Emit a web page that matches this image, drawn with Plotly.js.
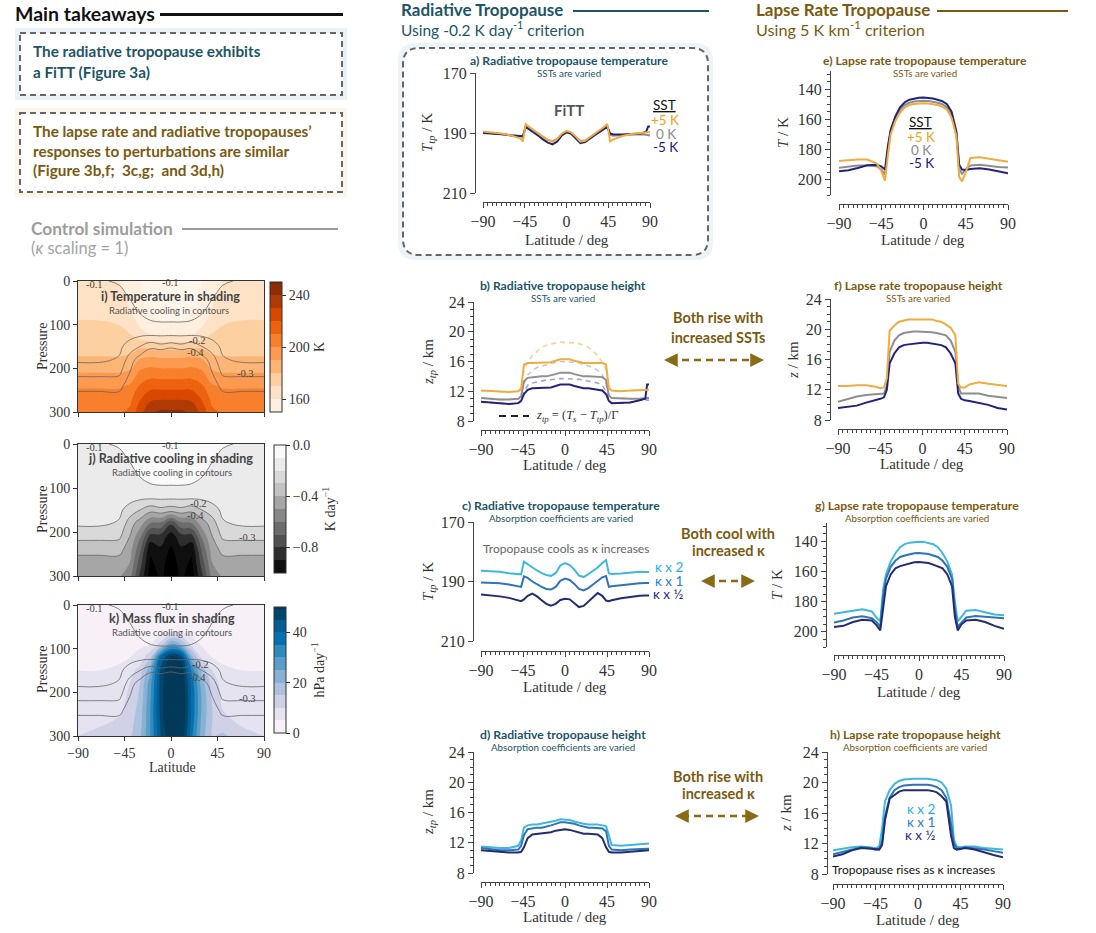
<!DOCTYPE html>
<html><head><meta charset="utf-8">
<script src="https://cdn.plot.ly/plotly-3.0.1.min.js"></script>
<style>html,body{margin:0;padding:0;background:#fff;}#chart{width:1096px;height:933px;}</style>
</head><body><div id="chart"></div>
<script>
// ---------------- DATA ----------------
const latR = [-90,-80,-70,-60,-50,-47,-44,-40,-35,-30,-25,-20,-15,-10,-5,0,5,10,15,20,25,30,35,40,44,47,50,60,70,80,86,88,90];
const latL = [-90,-80,-70,-60,-50,-45,-41,-38,-35,-30,-25,-20,-15,-10,-5,0,5,10,15,20,25,30,35,38,41,45,50,60,70,80,90];

// a) radiative tropopause temperature, SSTs varied (K)
const aGray   = [189.8,190.0,190.3,190.7,191.0,191.4,187.6,188.3,189.4,190.4,191.4,192.3,192.7,192.0,190.4,189.5,190.0,191.4,192.6,192.5,191.5,190.5,189.5,188.3,187.7,190.6,190.9,190.7,190.5,190.4,190.6,190.7,190.8];
const aOrange = [189.5,189.8,190.2,190.8,191.8,192.8,187.0,188.0,189.2,190.3,191.3,192.3,193.0,192.0,190.2,189.3,189.8,191.2,192.9,192.6,191.5,190.3,189.3,188.1,187.0,192.8,192.2,191.0,190.3,189.9,189.8,189.7,189.7];
const aNavy   = [190.0,190.1,190.4,190.8,191.0,191.1,188.0,188.8,190.0,191.0,192.2,193.2,193.8,192.8,190.8,189.8,190.3,191.8,193.4,193.0,191.8,190.8,189.8,188.8,188.0,190.2,190.4,190.5,190.3,190.2,189.5,187.8,187.8];

// b) radiative tropopause height, SSTs varied (km)
const bOrange = [12.1,12.0,11.9,11.9,12.0,12.3,15.6,15.8,15.8,15.8,15.8,15.9,15.9,16.1,16.3,16.3,16.3,16.1,15.9,15.8,15.8,15.8,15.8,15.8,15.6,12.4,12.1,12.0,12.1,12.2,12.2,12.2,12.2];
const bGray   = [11.1,11.0,10.9,10.9,11.0,11.3,13.3,13.8,13.9,13.9,14.0,14.0,14.1,14.3,14.5,14.5,14.5,14.3,14.1,14.0,14.0,14.0,14.0,13.9,13.5,11.4,11.1,11.0,11.0,11.0,11.1,11.1,11.1];
const bNavy   = [10.6,10.5,10.3,10.3,10.4,10.7,11.6,12.2,12.4,12.4,12.4,12.4,12.5,12.7,12.9,12.9,12.9,12.7,12.5,12.4,12.4,12.3,12.3,12.1,11.6,10.7,10.4,10.4,10.5,10.8,11.0,12.9,12.9];
const bOrangeEst = [12.1,12.0,11.9,11.9,12.0,12.6,14.8,15.9,16.8,17.4,17.9,18.2,18.4,18.5,18.6,18.6,18.6,18.5,18.4,18.2,17.9,17.4,16.8,15.9,14.8,12.6,12.1,12.0,12.1,12.2,12.2,12.2,12.2];
const bGrayEst   = [11.1,11.0,10.9,10.9,11.0,11.4,13.0,14.2,14.8,15.2,15.4,15.6,15.8,15.9,16.0,16.0,16.0,15.9,15.8,15.6,15.4,15.2,14.8,14.2,13.0,11.4,11.1,11.0,11.0,11.0,11.1,11.1,11.1];
const bNavyEst   = [10.6,10.5,10.3,10.3,10.4,10.8,12.0,12.8,13.1,13.3,13.4,13.5,13.6,13.7,13.7,13.7,13.7,13.7,13.6,13.5,13.4,13.3,13.1,12.8,12.0,10.8,10.4,10.4,10.5,10.8,10.8,10.8,10.8];

// c) radiative tropopause temperature, kappa varied (K)
const cK2   = [186.4,186.5,186.7,187.2,187.6,187.6,183.3,184.2,185.3,186.3,187.2,187.8,188.1,187.2,184.6,183.8,184.5,186.0,188.0,188.5,187.5,186.5,185.3,183.8,182.8,187.3,187.5,187.3,187.0,186.7,186.8,186.8,186.8];
const cK1   = [190.3,190.4,190.6,191.0,191.6,191.8,188.3,188.8,190.0,191.0,191.8,192.5,192.7,191.8,189.8,189.0,189.5,190.8,192.5,193.0,192.2,191.0,189.8,188.6,188.2,191.8,191.6,191.2,190.8,190.6,190.5,190.5,190.5];
const cKh   = [194.4,194.6,195.0,195.5,196.3,196.6,196.0,194.8,194.1,195.0,196.3,197.5,198.1,197.5,196.2,195.8,196.0,197.3,198.6,198.2,196.8,195.2,193.9,194.8,196.4,196.6,196.3,195.6,195.1,194.8,194.7,194.7,194.7];

// d) radiative tropopause height, kappa varied (km)
const dK2   = [11.5,11.4,11.3,11.3,11.6,12.3,14.0,14.3,14.4,14.4,14.5,14.6,14.7,14.9,15.1,15.1,15.0,14.8,14.6,14.5,14.4,14.4,14.4,14.3,14.2,13.0,11.7,11.6,11.7,11.8,11.9,11.9,11.9];
const dK1   = [11.3,11.2,11.0,11.0,11.1,11.6,13.0,13.8,13.9,14.0,14.0,14.1,14.3,14.5,14.7,14.7,14.6,14.5,14.3,14.1,14.0,14.0,14.0,13.9,13.5,11.6,11.1,11.0,11.1,11.2,11.2,11.2,11.2];
const dKh   = [11.0,10.9,10.8,10.7,10.7,10.8,11.4,12.6,13.1,13.2,13.3,13.3,13.4,13.6,13.7,13.8,13.7,13.5,13.3,13.2,13.2,13.2,13.1,12.6,11.4,10.8,10.7,10.7,10.8,10.9,11.0,11.0,11.0];

// e) lapse rate tropopause temperature, SSTs varied (K)
const eNavy   = [194.3,193.6,192.2,190.3,190.0,191.0,193.2,178.0,167.0,158.0,152.0,148.7,147.0,146.2,145.7,145.5,145.7,146.2,147.0,148.0,150.0,155.0,168.0,190.0,193.2,193.4,192.8,192.3,193.2,194.5,195.6];
const eGray   = [192.0,191.5,190.5,190.5,191.0,193.0,196.5,180.0,168.0,159.0,153.5,150.5,149.0,148.2,147.8,147.7,147.8,148.2,149.0,150.0,152.0,157.0,169.0,193.0,196.0,193.0,190.5,190.0,190.8,191.5,191.8];
const eOrange = [187.5,187.0,186.5,186.5,189.0,194.0,200.5,184.0,170.0,161.0,155.5,152.0,150.5,149.8,149.5,149.4,149.5,149.8,150.5,151.5,153.5,159.0,171.0,198.0,201.0,195.0,185.5,185.0,186.0,187.2,188.0];

// f) lapse rate tropopause height, SSTs varied (km)
const fOrange = [12.5,12.5,12.6,12.6,12.4,12.2,12.3,13.5,19.8,20.5,21.0,21.2,21.3,21.3,21.3,21.3,21.3,21.3,21.1,21.0,20.6,20.2,19.2,12.8,12.3,12.3,12.7,13.0,12.8,12.7,12.5];
const fGray   = [10.4,10.8,11.1,11.3,11.4,11.4,11.5,12.5,17.0,18.5,19.2,19.5,19.6,19.7,19.7,19.7,19.7,19.6,19.5,19.4,19.2,18.5,17.0,12.5,11.5,11.5,11.5,11.5,11.2,11.0,10.9];
const fNavy   = [9.6,9.7,9.9,10.3,10.6,10.8,11.0,12.0,15.5,16.8,17.6,17.9,18.0,18.1,18.2,18.2,18.2,18.1,18.0,17.9,17.6,16.8,15.5,11.5,10.8,10.6,10.5,10.3,10.0,9.6,9.4];

// g) lapse rate tropopause temperature, kappa varied (K)
const gK2   = [188.0,187.2,186.0,185.0,186.5,190.5,193.0,172.0,162.0,153.5,148.0,144.0,142.0,141.0,140.5,140.4,140.5,141.0,142.0,144.0,148.0,153.5,162.0,180.0,193.0,190.0,186.0,185.5,187.0,188.5,189.0];
const gK1   = [193.8,192.5,190.5,189.7,191.0,193.5,196.5,176.0,165.0,157.0,153.0,150.5,149.5,148.5,148.0,147.9,148.0,148.5,149.5,150.5,153.0,157.0,165.0,185.0,196.5,193.5,190.5,189.5,190.0,190.8,191.0];
const gKh   = [196.8,196.0,193.5,192.0,192.5,195.5,199.0,185.0,170.0,162.0,158.0,156.5,155.5,154.5,154.0,153.8,154.0,154.5,155.5,156.5,158.0,162.0,170.0,190.0,199.0,195.0,192.5,192.0,193.5,196.0,198.0];

// h) lapse rate tropopause height, kappa varied (km)
const hK2   = [11.1,11.3,11.5,11.6,11.5,11.4,11.6,14.0,17.5,19.0,19.8,20.2,20.4,20.5,20.5,20.5,20.5,20.5,20.4,20.3,20.0,19.2,17.0,12.5,11.6,11.5,11.6,11.6,11.4,11.3,11.2];
const hK1   = [10.6,10.9,11.3,11.5,11.4,11.2,11.3,12.2,15.5,18.0,19.0,19.4,19.6,19.7,19.7,19.7,19.7,19.7,19.6,19.4,19.0,18.0,14.5,12.0,11.4,11.3,11.5,11.4,11.2,11.0,10.8];
const hKh   = [10.3,10.6,11.1,11.4,11.3,11.2,11.2,11.8,15.0,17.9,18.3,18.8,19.0,19.0,19.0,19.0,19.0,19.0,18.9,18.7,18.2,17.5,13.0,11.4,11.2,11.3,11.4,11.2,10.8,10.5,10.2];

// Control simulation fields (rows = pressure, cols = latitude)
const latC  = [-90,-70,-50,-40,-30,-20,-10,0,10,20,30,40,50,70,90];
const presC = [0,30,60,90,120,150,180,210,240,270,300];
const tempField = [
 [163,163,160,157,150,146,145,145,145,146,150,157,160,163,163],
 [165,165,162,158,151,146,145,145,145,146,151,158,162,165,165],
 [167,167,165,160,153,148,146,146,146,148,153,160,165,167,167],
 [170,170,168,164,157,152,150,150,150,152,157,164,168,170,170],
 [174,174,173,170,163,159,158,158,158,159,163,170,173,174,174],
 [177,177,177,177,178,177,176,176,176,177,178,177,177,177,177],
 [181,181,181,182,191,193,192,192,192,193,191,182,181,181,181],
 [190,190,190,192,202,205,204,204,204,205,202,192,190,190,190],
 [199,199,199,201,211,216,216,216,216,216,211,201,199,199,199],
 [204,204,204,207,219,228,229,229,229,228,219,207,204,204,204],
 [208,208,209,212,226,238,242,242,242,238,226,212,209,208,208]
];
const coolField = [
 [-0.12,-0.11,-0.09,-0.06,-0.04,-0.03,-0.03,-0.03,-0.03,-0.03,-0.04,-0.06,-0.09,-0.11,-0.12],
 [-0.13,-0.13,-0.12,-0.09,-0.05,-0.04,-0.04,-0.04,-0.04,-0.04,-0.05,-0.09,-0.12,-0.13,-0.13],
 [-0.14,-0.14,-0.14,-0.12,-0.08,-0.06,-0.05,-0.05,-0.05,-0.06,-0.08,-0.12,-0.14,-0.14,-0.14],
 [-0.15,-0.15,-0.15,-0.15,-0.12,-0.10,-0.09,-0.09,-0.09,-0.10,-0.12,-0.15,-0.15,-0.15,-0.15],
 [-0.16,-0.16,-0.16,-0.16,-0.17,-0.17,-0.17,-0.17,-0.17,-0.17,-0.17,-0.16,-0.16,-0.16,-0.16],
 [-0.17,-0.17,-0.18,-0.24,-0.30,-0.36,-0.33,-0.35,-0.33,-0.36,-0.30,-0.24,-0.18,-0.17,-0.17],
 [-0.18,-0.18,-0.21,-0.35,-0.45,-0.60,-0.62,-0.78,-0.62,-0.60,-0.45,-0.35,-0.21,-0.18,-0.18],
 [-0.27,-0.27,-0.28,-0.40,-0.58,-0.84,-0.84,-0.95,-0.84,-0.84,-0.58,-0.40,-0.28,-0.27,-0.27],
 [-0.37,-0.37,-0.37,-0.45,-0.68,-0.98,-0.92,-1.02,-0.92,-0.98,-0.68,-0.45,-0.37,-0.37,-0.37],
 [-0.44,-0.44,-0.44,-0.50,-0.75,-1.02,-0.96,-1.05,-0.96,-1.02,-0.75,-0.50,-0.44,-0.44,-0.44],
 [-0.49,-0.49,-0.49,-0.55,-0.82,-1.05,-0.98,-1.05,-0.98,-1.05,-0.82,-0.55,-0.49,-0.49,-0.49]
];
const massField = [
 [1,1,1,1,1,1,1,1,1,1,1,1,1,1,1],
 [1,1,1,1,1,1,1,2,2,1,1,1,1,1,1],
 [2,2,2,2,2,2,3,4,4,3,2,2,2,2,2],
 [3,3,3,3,4,5,12,25,20,8,4,3,3,3,3],
 [4,4,4,5,7,14,40,52,48,22,9,5,4,4,4],
 [5,5,6,8,12,24,46,56,54,34,18,10,6,5,5],
 [6,6,7,10,15,28,47,58,56,38,22,13,8,6,6],
 [7,7,8,11,16,29,47,60,57,39,24,14,9,7,7],
 [8,8,9,12,17,30,47,60,57,39,24,15,10,8,8],
 [9,9,11,13,18,30,46,58,56,38,23,15,12,9,9],
 [10,12,15,14,19,30,45,55,54,36,22,15,16,12,10]
];

// ---------------- STYLE ----------------
const W = 1096, H = 933;
const X = p => p / W, Y = p => 1 - p / H;
const TEAL = '#1d5565', GOLD = '#7a5a10', GOLDARROW = '#8a6a14';
const cOr = '#efad40', cGr = '#8e8e8e', cNv = '#23237c';
const cK2c = '#3fb8dc', cK1c = '#2f74b8', cKhc = '#232c6e';
const SERIF = 'Liberation Serif', SANS = 'Lato';
const AXC = '#444';

const traces = [];
function line(x, y, n, color, width, dash) {
  traces.push({type:'scatter', mode:'lines', x:x, y:y, xaxis: n===1?'x':'x'+n, yaxis: n===1?'y':'y'+n,
    line:{color:color, width:width||2, dash:dash||'solid'}, hoverinfo:'skip'});
}
// a
line(latR, aGray, 1, cGr); line(latR, aNavy, 1, cNv); line(latR, aOrange, 1, cOr);
// b
line(latR, bOrangeEst, 2, 'rgba(240,175,70,0.55)', 1.6, '5px,4px');
line(latR, bGrayEst, 2, 'rgba(150,150,150,0.55)', 1.6, '5px,4px');
line(latR, bNavyEst, 2, 'rgba(70,70,180,0.5)', 1.6, '5px,4px');
line(latR, bGray, 2, cGr); line(latR, bNavy, 2, cNv); line(latR, bOrange, 2, cOr);
// c
line(latR, cK2, 3, cK2c); line(latR, cK1, 3, cK1c); line(latR, cKh, 3, cKhc);
// d
line(latR, dK2, 4, cK2c); line(latR, dK1, 4, cK1c); line(latR, dKh, 4, cKhc);
// e
line(latL, eGray, 5, cGr); line(latL, eNavy, 5, cNv); line(latL, eOrange, 5, cOr);
// f
line(latL, fGray, 6, cGr); line(latL, fNavy, 6, cNv); line(latL, fOrange, 6, cOr);
// g
line(latL, gK2, 7, cK2c); line(latL, gK1, 7, cK1c); line(latL, gKh, 7, cKhc);
// h
line(latL, hK2, 8, cK2c); line(latL, hK1, 8, cK1c); line(latL, hKh, 8, cKhc);

// contour panels
const oranges = [[0,'#fff5eb'],[0.125,'#fee6ce'],[0.25,'#fdd0a2'],[0.375,'#fdae6b'],[0.5,'#fd8d3c'],[0.625,'#f16913'],[0.75,'#d94801'],[0.875,'#a63603'],[1,'#7f2704']];
const greys = [[0,'#000000'],[0.125,'#252525'],[0.25,'#525252'],[0.375,'#737373'],[0.5,'#969696'],[0.625,'#bdbdbd'],[0.75,'#d9d9d9'],[0.875,'#f0f0f0'],[1,'#ffffff']];
const pubu = [[0,'#fff7fb'],[0.125,'#ece7f2'],[0.25,'#d0d1e6'],[0.375,'#a6bddb'],[0.5,'#74a9cf'],[0.625,'#3690c0'],[0.75,'#0570b0'],[0.875,'#045a8d'],[1,'#023858']];
function cbar(x0, yc, len, tv, tt, title) {
  return {x:X(x0), xanchor:'left', y:Y(yc), yanchor:'middle', len:len/H, lenmode:'fraction', thickness:12,
    xpad:0, ypad:0, outlinewidth:1, outlinecolor:'#333', tickvals:tv, ticktext:tt, ticks:'outside', ticklen:4,
    tickcolor:'#333', tickfont:{family:SERIF, size:14, color:'#333'},
    title:{text:title, side:'right', font:{family:SERIF, size:14, color:'#333'}}};
}
traces.push({type:'contour', x:latC, y:presC, z:tempField, xaxis:'x9', yaxis:'y9', colorscale:oranges,
  zmin:150, zmax:250, autocontour:false, contours:{coloring:'fill', start:150, end:250, size:10, showlines:false},
  line:{width:0, smoothing:1.2}, hoverinfo:'skip',
  colorbar:cbar(270, 347, 130, [160,200,240], ['160','200','240'], 'K')});
traces.push({type:'contour', x:latC, y:presC, z:coolField, xaxis:'x10', yaxis:'y10', colorscale:greys,
  zmin:-1.0, zmax:0.0, autocontour:false, contours:{coloring:'fill', start:-1.0, end:0.0, size:0.1, showlines:false},
  line:{width:0, smoothing:1.2}, hoverinfo:'skip',
  colorbar:cbar(274, 509, 128, [0,-0.4,-0.8], ['0.0','\u22120.4','\u22120.8'], 'K day<sup>\u22121</sup>')});
traces.push({type:'contour', x:latC, y:presC, z:massField, xaxis:'x11', yaxis:'y11', colorscale:pubu,
  zmin:0, zmax:50, autocontour:false, contours:{coloring:'fill', start:0, end:50, size:5, showlines:false},
  line:{width:0, smoothing:1.2}, hoverinfo:'skip',
  colorbar:cbar(274, 670, 126, [0,20,40], ['0','20','40'], 'hPa day<sup>\u22121</sup>')});
[9,10,11].forEach(n => {
  traces.push({type:'contour', x:latC, y:presC, z:coolField, xaxis:'x'+n, yaxis:'y'+n, showscale:false,
    autocontour:false, contours:{coloring:'none', start:-0.4, end:-0.1, size:0.1},
    line:{color:'#666', width:0.8, smoothing:1.2}, hoverinfo:'skip'});
});

// ---------------- AXES ----------------
const layout = {width:W, height:H, margin:{l:0,r:0,t:0,b:0}, showlegend:false,
  paper_bgcolor:'#ffffff', plot_bgcolor:'rgba(0,0,0,0)', shapes:[], annotations:[]};

function lineAxes(n, xl, xr, yt, yb, xline, yline, yrange, ydtick, ytick0, yminor) {
  const k = n===1 ? '' : n;
  layout['xaxis'+k] = {domain:[X(xl), X(xr)], range:[-90,90], anchor:'free', position:Y(xline),
    tickmode:'linear', tick0:-90, dtick:45, ticks:'outside', ticklen:5, tickwidth:1, tickcolor:AXC,
    showline:true, linecolor:AXC, linewidth:1, showgrid:false, zeroline:false,
    tickfont:{family:SERIF, size:16, color:'#333'},
    minor:{tickmode:'linear', tick0:0, dtick:5, ticks:'outside', ticklen:3, tickcolor:AXC, showgrid:false}};
  const ya = {domain:[Y(yb), Y(yt)], range:yrange, anchor:'free', position:X(yline),
    tickmode:'linear', tick0:ytick0, dtick:ydtick, ticks:'outside', ticklen:5, tickwidth:1, tickcolor:AXC,
    showline:true, linecolor:AXC, linewidth:1, showgrid:false, zeroline:false,
    tickfont:{family:SERIF, size:16, color:'#333'}};
  if (yminor) ya.minor = {tickmode:'linear', tick0:0, dtick:yminor, ticks:'outside', ticklen:3, tickcolor:AXC, showgrid:false};
  layout['yaxis'+k] = ya;
}
lineAxes(1, 483, 650, 73, 193, 202, 475, [210,170], 20, 170, 0);
lineAxes(2, 481, 649, 302, 421, 430, 473, [8,24], 4, 8, 1);
lineAxes(3, 481, 649, 522, 641, 651, 473, [210,170], 20, 170, 0);
lineAxes(4, 481, 649, 752, 873, 882, 473, [8,24], 4, 8, 1);
lineAxes(5, 839, 1008, 71, 195, 204, 830, [210,128], 20, 140, 5);
lineAxes(6, 838, 1007, 299, 420, 429, 830, [8,24], 4, 8, 1);
lineAxes(7, 834, 1004, 523, 647, 655, 826, [210,128], 20, 140, 5);
lineAxes(8, 833, 1003, 752, 874, 884, 827, [8,24], 4, 8, 1);

function boxAxes(n, yt, yb, showX) {
  layout['xaxis'+n] = {domain:[X(78), X(264)], range:[-90,90], anchor:'y'+n, tickmode:'linear', tick0:-90, dtick:45,
    ticks:'outside', ticklen:4, tickcolor:'#333', showline:true, mirror:true, linecolor:'#333', linewidth:1,
    showgrid:false, zeroline:false, showticklabels:showX, tickfont:{family:SERIF, size:14, color:'#333'}};
  layout['yaxis'+n] = {domain:[Y(yb), Y(yt)], range:[300,0], anchor:'x'+n, tickmode:'linear', tick0:0, dtick:100,
    ticks:'outside', ticklen:4, tickcolor:'#333', showline:true, mirror:true, linecolor:'#333', linewidth:1,
    showgrid:false, zeroline:false, tickfont:{family:SERIF, size:14, color:'#333'}};
}
boxAxes(9, 281, 412, false);
boxAxes(10, 444, 576, false);
boxAxes(11, 605, 736, true);

// ---------------- SHAPES ----------------
const S = layout.shapes;
function pline(x0, y0, x1, y1, color, width, dash) {
  S.push({type:'line', xref:'paper', yref:'paper', x0:X(x0), y0:Y(y0), x1:X(x1), y1:Y(y1),
    line:{color:color, width:width, dash:dash||'solid'}});
}
function prect(x0, y0, x1, y1, fill, lc, lw, dash, layer) {
  S.push({type:'rect', xref:'paper', yref:'paper', x0:X(x0), y0:Y(y0), x1:X(x1), y1:Y(y1),
    fillcolor:fill, line:{color:lc, width:lw, dash:dash||'solid'}, layer:layer||'above'});
}
function rpath(x0, y0, x1, y1, r) {
  const f = (a,b) => X(a)+','+Y(b);
  return 'M'+f(x0+r,y0)+' L'+f(x1-r,y0)+' Q'+f(x1,y0)+' '+f(x1,y0+r)+' L'+f(x1,y1-r)+' Q'+f(x1,y1)+' '+f(x1-r,y1)+
    ' L'+f(x0+r,y1)+' Q'+f(x0,y1)+' '+f(x0,y1-r)+' L'+f(x0,y0+r)+' Q'+f(x0,y0)+' '+f(x0+r,y0)+' Z';
}
// glows + boxes
prect(15,28,347,100,'rgba(195,218,230,0.35)','rgba(0,0,0,0)',0,null,'below');
prect(20,33,342,95,'#ffffff','rgba(0,0,0,0)',0,null,'below');
prect(20,33,342,95,'rgba(0,0,0,0)','#666',2,'6px,4px');
prect(15,108,347,197,'rgba(245,230,190,0.35)','rgba(0,0,0,0)',0,null,'below');
prect(20,113,342,192,'#ffffff','rgba(0,0,0,0)',0,null,'below');
prect(20,113,342,192,'rgba(0,0,0,0)','#666',2,'6px,4px');
S.push({type:'path', xref:'paper', yref:'paper', path:rpath(398,43,713,260,18), fillcolor:'rgba(195,218,230,0.3)', line:{width:0}, layer:'below'});
S.push({type:'path', xref:'paper', yref:'paper', path:rpath(403,48,708,255,16), fillcolor:'#ffffff', line:{width:0}, layer:'below'});
S.push({type:'path', xref:'paper', yref:'paper', path:rpath(403,48,708,255,16), fillcolor:'rgba(0,0,0,0)', line:{color:'#666', width:2, dash:'6px,4px'}});
// header rules
pline(160,14.5,343,14.5,'#111',3);
pline(573,11,709,11,TEAL,2);
pline(937,11,1068,11,GOLD,2);
pline(182,229,338,229,'#9a9a9a',2);
// dashed arrows
pline(670,360,757,360,GOLDARROW,2.5,'7px,5px');
pline(707,581,749,581,GOLDARROW,2.5,'7px,5px');
pline(682,816,752,816,GOLDARROW,2.5,'7px,5px');
// dashed legend line in b
pline(499,416,529,416,'#222',2,'7px,5px');

// ---------------- ANNOTATIONS ----------------
const A = layout.annotations;
function T(text, x, y, size, color, opts) {
  A.push(Object.assign({text:text, xref:'paper', yref:'paper', x:X(x), y:Y(y), xanchor:'center', yanchor:'middle',
    showarrow:false, font:{family:SANS, size:size, color:color}}, opts||{}));
}
function arrowHead(x, y, dx) {
  A.push({text:'', xref:'paper', yref:'paper', x:X(x), y:Y(y), ax:dx, ay:0, axref:'pixel', ayref:'pixel',
    showarrow:true, arrowhead:2, arrowsize:1.1, arrowwidth:2.5, arrowcolor:GOLDARROW, standoff:0});
}
const L = {xanchor:'left'};
T('<b>Main takeaways</b>', 13, 14, 19.5, '#111', L);
T('<b>The radiative tropopause exhibits</b>', 31, 51, 15.3, TEAL, L);
T('<b>a FiTT (Figure 3a)</b>', 31, 72, 15.3, TEAL, L);
T('<b>The lapse rate and radiative tropopauses\u2019</b>', 31, 131, 15.3, GOLD, L);
T('<b>responses to perturbations are similar</b>', 31, 151, 15.3, GOLD, L);
T('<b>(Figure 3b,f;  3c,g;  and 3d,h)</b>', 31, 170, 15.3, GOLD, L);
T('<b>Control simulation</b>', 29, 228, 17.3, '#9c9c9c', L);
T('(<i>\u03ba</i> scaling = 1)', 29, 248, 16.5, '#a3a3a3', L);
T('<b>Radiative Tropopause</b>', 399, 10, 17, TEAL, L);
T('Using -0.2 K day<sup>-1</sup> criterion', 399, 29, 15.5, TEAL, L);
T('<b>Lapse Rate Tropopause</b>', 754, 10, 17, GOLD, L);
T('Using 5 K km<sup>-1</sup> criterion', 754, 29, 16.2, GOLD, L);

// panel titles
const PT = [
  ['a) Radiative tropopause temperature','SSTs are varied',569,60,TEAL],
  ['b) Radiative tropopause height','SSTs are varied',563,285,TEAL],
  ['c) Radiative tropopause temperature','Absorption coefficients are varied',561,505,TEAL],
  ['d) Radiative tropopause height','Absorption coefficients are varied',563,734,TEAL],
  ['e) Lapse rate tropopause temperature','SSTs are varied',925,60,GOLD],
  ['f) Lapse rate tropopause height','SSTs are varied',918,285,GOLD],
  ['g) Lapse rate tropopause temperature','Absorption coefficients are varied',917,505,GOLD],
  ['h) Lapse rate tropopause height','Absorption coefficients are varied',915,734,GOLD]
];
PT.forEach(p => { T('<b>'+p[0]+'</b>', p[2], p[3], 12.2, p[4]); T(p[1], p[2], p[3]+13, 9.8, p[4]); });

// axis titles
function AT(text, x, y, rot, size) {
  A.push({text:text, xref:'paper', yref:'paper', x:X(x), y:Y(y), xanchor:'center', yanchor:'middle',
    showarrow:false, textangle:rot||0, font:{family:SERIF, size:size||15, color:'#333'}});
}
AT('Latitude / deg', 567, 240); AT('Latitude / deg', 565, 465); AT('Latitude / deg', 565, 687); AT('Latitude / deg', 565, 917);
AT('Latitude / deg', 923, 240); AT('Latitude / deg', 922, 464); AT('Latitude / deg', 919, 692); AT('Latitude / deg', 918, 920);
AT('<i>T<sub>tp</sub></i> / K', 428, 133, -90); AT('<i>z<sub>tp</sub></i> / km', 429, 362, -90);
AT('<i>T<sub>tp</sub></i> / K', 429, 582, -90); AT('<i>z<sub>tp</sub></i> / km', 429, 812, -90);
AT('<i>T</i> / K', 783, 133, -90); AT('<i>z</i> / km', 793, 360, -90);
AT('<i>T</i> / K', 777, 585, -90); AT('<i>z</i> / km', 786, 813, -90);
AT('Pressure', 42, 347, -90, 14); AT('Pressure', 42, 510, -90, 14); AT('Pressure', 42, 670, -90, 14);
AT('Latitude', 172, 767, 0, 14);

// panel a / e legends
T('<b>FiTT</b>', 569, 110, 15, '#555');
T('<span style="text-decoration:underline">SST</span>', 664, 105, 13.5, '#111');
T('+5 K', 665, 120, 13.5, '#f59f1a'); T('0 K', 666, 134, 13.5, '#8a8a8a'); T('-5 K', 665, 147, 13.5, '#1a1a86');
T('<span style="text-decoration:underline">SST</span>', 920, 122, 13.5, '#111');
T('+5 K', 921, 137, 13.5, '#f59f1a'); T('0 K', 921, 150, 13.5, '#8a8a8a'); T('-5 K', 921, 163, 13.5, '#1a1a86');
// panel b dashed legend
A.push({text:'<i>z<sub>tp</sub></i> = (<i>T<sub>s</sub></i> \u2212 <i>T<sub>tp</sub></i>)/\u0393', xref:'paper', yref:'paper',
  x:X(534), y:Y(416), xanchor:'left', yanchor:'middle', showarrow:false, font:{family:SERIF, size:12.5, color:'#333'}});
// panel c / h texts
T('Tropopause cools as \u03ba increases', 566, 548, 12, '#666');
T('\u03ba x 2', 653, 567, 13.5, '#1fb0e8', L); T('\u03ba x 1', 653, 580.5, 13.5, '#1f80d0', L); T('\u03ba x \u00bd', 651, 594, 13.5, '#1f2a8a', L);
T('\u03ba x 2', 905, 809, 13.5, '#1fb0e8', L); T('\u03ba x 1', 905, 822, 13.5, '#1f80d0', L); T('\u03ba x \u00bd', 903, 835, 13.5, '#1f2a8a', L);
T('Tropopause rises as \u03ba increases', 913, 869, 12, '#111');

// between-column arrows
T('<b>Both rise with</b>', 718, 318, 14.5, GOLD); T('<b>increased SSTs</b>', 718, 337, 14.5, GOLD);
arrowHead(664, 360, 12); arrowHead(764, 360, -12);
T('<b>Both cool with</b>', 728, 533, 14.5, GOLD); T('<b>increased \u03ba</b>', 728, 550, 14.5, GOLD);
arrowHead(701, 581, 12); arrowHead(755, 581, -12);
T('<b>Both rise with</b>', 718, 776, 14.5, GOLD); T('<b>increased \u03ba</b>', 718, 793, 14.5, GOLD);
arrowHead(675, 816, 12); arrowHead(759, 816, -12);

// contour-panel titles
T('<b>i) Temperature in shading</b>', 170, 297, 12.5, '#444'); T('Radiative cooling in contours', 169, 310, 9.5, '#555');
T('<b>j) Radiative cooling in shading</b>', 170, 458, 12.5, '#444'); T('Radiative cooling in contours', 172, 472, 9.5, '#555');
T('<b>k) Mass flux in shading</b>', 172, 618, 12.5, '#444'); T('Radiative cooling in contours', 172, 632, 9.5, '#555');
// contour labels
const CL = {family:SERIF, size:10.5, color:'#444'};
function cl(text, x, y) { A.push({text:text, xref:'paper', yref:'paper', x:X(x), y:Y(y), xanchor:'center', yanchor:'middle', showarrow:false, font:CL}); }
[284,447,608].forEach(b => { cl('-0.1', 94, b); cl('-0.1', 170, b-2); });
cl('-0.2', 197, 340); cl('-0.4', 195, 352); cl('-0.3', 245, 373);
cl('-0.2', 198, 503); cl('-0.4', 195, 515); cl('-0.3', 247, 537);
cl('-0.2', 200, 664); cl('-0.4', 197, 677); cl('-0.3', 247, 698);

Plotly.newPlot('chart', traces, layout, {staticPlot:true, displayModeBar:false});
</script></body></html>
